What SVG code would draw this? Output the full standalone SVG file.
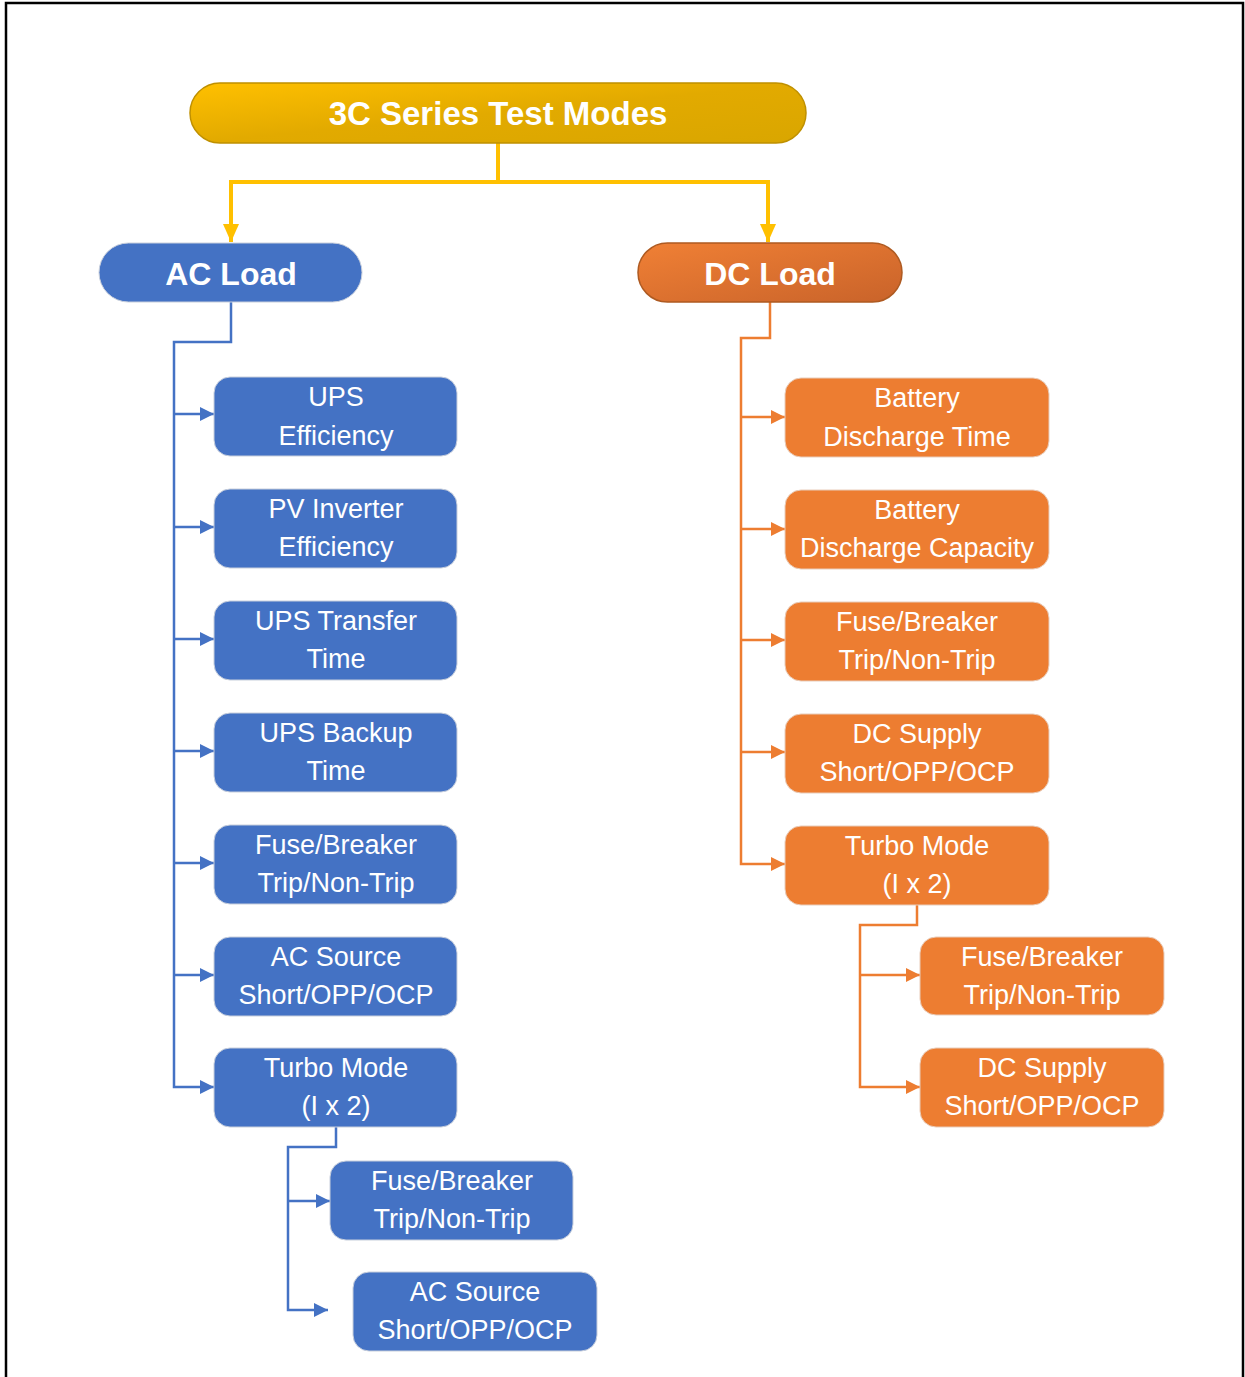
<svg xmlns="http://www.w3.org/2000/svg" width="1245" height="1377" viewBox="0 0 1245 1377">
<defs>
<linearGradient id="gRoot" x1="0" y1="0" x2="1" y2="1">
<stop offset="0" stop-color="#FFC000"/><stop offset="0.5" stop-color="#E2AA00"/><stop offset="1" stop-color="#D9A600"/>
</linearGradient>
<linearGradient id="gDc" x1="0" y1="0" x2="1" y2="1">
<stop offset="0" stop-color="#F08035"/><stop offset="1" stop-color="#C9632A"/>
</linearGradient>
<marker id="aY" markerUnits="userSpaceOnUse" markerWidth="18" markerHeight="16" refX="18" refY="8" orient="auto" viewBox="0 0 18 16">
<path d="M0,0 L18,8 L0,16 Z" fill="#FFC000"/>
</marker>
<marker id="aB" markerUnits="userSpaceOnUse" markerWidth="14" markerHeight="14" refX="14" refY="7" orient="auto" viewBox="0 0 14 14">
<path d="M0,0 L14,7 L0,14 Z" fill="#4472C4"/>
</marker>
<marker id="aO" markerUnits="userSpaceOnUse" markerWidth="14" markerHeight="14" refX="14" refY="7" orient="auto" viewBox="0 0 14 14">
<path d="M0,0 L14,7 L0,14 Z" fill="#ED7D31"/>
</marker>
</defs>
<style>
.frame{fill:none;stroke:#000;stroke-width:2.5}
.blue{fill:#4472C4;stroke:#C8CFDC;stroke-width:1}
.orange{fill:#ED7D31;stroke:#E8CDBB;stroke-width:1}
.t{font-family:"Liberation Sans",Arial,sans-serif;font-size:27px;fill:#fff;text-anchor:middle}
.tb{font-family:"Liberation Sans",Arial,sans-serif;font-weight:bold;fill:#fff;text-anchor:middle}
.cy{fill:none;stroke:#FFC000;stroke-width:4}
.cb{fill:none;stroke:#4472C4;stroke-width:2.5}
.co{fill:none;stroke:#ED7D31;stroke-width:2.5}
</style>
<rect width="1245" height="1377" fill="#fff"/>
<path class="frame" d="M6,1380 L6,3 L1243,3 L1243,1380"/>

<g id="connectors">
<path class="cy" d="M498,143 L498,182 L231,182 L231,242" marker-end="url(#aY)"/>
<path class="cy" d="M498,182 L768,182 L768,242" marker-end="url(#aY)"/>
<path class="cb" d="M231,302 L231,342 L174,342 L174,1087 L214,1087" marker-end="url(#aB)"/>
<path class="cb" d="M174,414 L214,414" marker-end="url(#aB)"/>
<path class="cb" d="M174,527 L214,527" marker-end="url(#aB)"/>
<path class="cb" d="M174,639 L214,639" marker-end="url(#aB)"/>
<path class="cb" d="M174,751 L214,751" marker-end="url(#aB)"/>
<path class="cb" d="M174,863 L214,863" marker-end="url(#aB)"/>
<path class="cb" d="M174,975 L214,975" marker-end="url(#aB)"/>
<path class="cb" d="M336,1127 L336,1147 L288,1147 L288,1310 L328,1310" marker-end="url(#aB)"/>
<path class="cb" d="M288,1201 L330,1201" marker-end="url(#aB)"/>
<path class="co" d="M770,302 L770,338 L741,338 L741,864 L785,864" marker-end="url(#aO)"/>
<path class="co" d="M741,417 L785,417" marker-end="url(#aO)"/>
<path class="co" d="M741,529 L785,529" marker-end="url(#aO)"/>
<path class="co" d="M741,640 L785,640" marker-end="url(#aO)"/>
<path class="co" d="M741,752 L785,752" marker-end="url(#aO)"/>
<path class="co" d="M917,905 L917,925 L860,925 L860,1087 L920,1087" marker-end="url(#aO)"/>
<path class="co" d="M860,975 L920,975" marker-end="url(#aO)"/>
</g>

<g id="root">
<rect x="190" y="83" width="616" height="60" rx="30" fill="url(#gRoot)" stroke="#BF9000" stroke-width="1.5"/>
<text class="tb" x="498" y="125" font-size="33">3C Series Test Modes</text>
</g>
<g id="ac-load">
<rect x="99" y="243" width="263" height="59" rx="29.5" class="blue"/>
<text class="tb" x="231" y="285" font-size="32">AC Load</text>
</g>
<g id="dc-load">
<rect x="638" y="243" width="264" height="59" rx="29.5" fill="url(#gDc)" stroke="#AE5A21" stroke-width="1.5"/>
<text class="tb" x="770" y="285" font-size="32">DC Load</text>
</g>

<g id="ac-ups-eff">
<rect x="214" y="377" width="243" height="79" rx="16" class="blue"/>
<text class="t" x="336" y="406">UPS</text><text class="t" x="336" y="445">Efficiency</text>
</g>
<g id="ac-pv-eff">
<rect x="214" y="489" width="243" height="79" rx="16" class="blue"/>
<text class="t" x="336" y="518">PV Inverter</text><text class="t" x="336" y="556">Efficiency</text>
</g>
<g id="ac-ups-transfer">
<rect x="214" y="601" width="243" height="79" rx="16" class="blue"/>
<text class="t" x="336" y="630">UPS Transfer</text><text class="t" x="336" y="668">Time</text>
</g>
<g id="ac-ups-backup">
<rect x="214" y="713" width="243" height="79" rx="16" class="blue"/>
<text class="t" x="336" y="742">UPS Backup</text><text class="t" x="336" y="780">Time</text>
</g>
<g id="ac-fuse">
<rect x="214" y="825" width="243" height="79" rx="16" class="blue"/>
<text class="t" x="336" y="854">Fuse/Breaker</text><text class="t" x="336" y="892">Trip/Non-Trip</text>
</g>
<g id="ac-source">
<rect x="214" y="937" width="243" height="79" rx="16" class="blue"/>
<text class="t" x="336" y="966">AC Source</text><text class="t" x="336" y="1004">Short/OPP/OCP</text>
</g>
<g id="ac-turbo">
<rect x="214" y="1048" width="243" height="79" rx="16" class="blue"/>
<text class="t" x="336" y="1077">Turbo Mode</text><text class="t" x="336" y="1115">(I x 2)</text>
</g>
<g id="ac-turbo-fuse">
<rect x="330" y="1161" width="243" height="79" rx="16" class="blue"/>
<text class="t" x="452" y="1190">Fuse/Breaker</text><text class="t" x="452" y="1228">Trip/Non-Trip</text>
</g>
<g id="ac-turbo-source">
<rect x="353" y="1272" width="244" height="79" rx="16" class="blue"/>
<text class="t" x="475" y="1301">AC Source</text><text class="t" x="475" y="1339">Short/OPP/OCP</text>
</g>

<g id="dc-bat-time">
<rect x="785" y="378" width="264" height="79" rx="16" class="orange"/>
<text class="t" x="917" y="407">Battery</text><text class="t" x="917" y="446">Discharge Time</text>
</g>
<g id="dc-bat-cap">
<rect x="785" y="490" width="264" height="79" rx="16" class="orange"/>
<text class="t" x="917" y="519">Battery</text><text class="t" x="917" y="557">Discharge Capacity</text>
</g>
<g id="dc-fuse">
<rect x="785" y="602" width="264" height="79" rx="16" class="orange"/>
<text class="t" x="917" y="631">Fuse/Breaker</text><text class="t" x="917" y="669">Trip/Non-Trip</text>
</g>
<g id="dc-supply">
<rect x="785" y="714" width="264" height="79" rx="16" class="orange"/>
<text class="t" x="917" y="743">DC Supply</text><text class="t" x="917" y="781">Short/OPP/OCP</text>
</g>
<g id="dc-turbo">
<rect x="785" y="826" width="264" height="79" rx="16" class="orange"/>
<text class="t" x="917" y="855">Turbo Mode</text><text class="t" x="917" y="893">(I x 2)</text>
</g>
<g id="dc-turbo-fuse">
<rect x="920" y="937" width="244" height="78" rx="16" class="orange"/>
<text class="t" x="1042" y="966">Fuse/Breaker</text><text class="t" x="1042" y="1004">Trip/Non-Trip</text>
</g>
<g id="dc-turbo-supply">
<rect x="920" y="1048" width="244" height="79" rx="16" class="orange"/>
<text class="t" x="1042" y="1077">DC Supply</text><text class="t" x="1042" y="1115">Short/OPP/OCP</text>
</g>
</svg>
